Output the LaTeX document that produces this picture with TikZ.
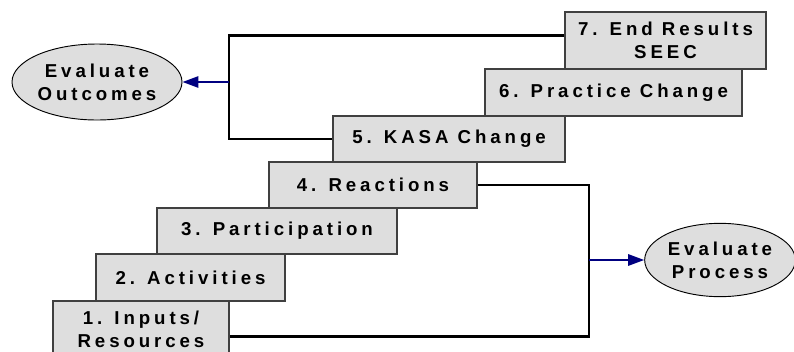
\documentclass[tikz,border=0pt]{standalone}
\usepackage{fontspec}
\setmainfont{Liberation Sans}
\newfontfamily\stairfont[LetterSpace=21]{Liberation Sans}
\usepackage{tikz}
\usetikzlibrary{positioning,arrows.meta,shapes.geometric}
\definecolor{cflow}{RGB}{0,0,128}
\colorlet{cfill}{black!13}
\tikzset{
  stepbox/.style={draw=black!75, fill=cfill, line width=1.2pt, inner sep=0pt, align=center,
                  font=\stairfont\bfseries\fontsize{14}{17}\selectfont},
  evalnode/.style={ellipse, draw=black, fill=cfill, line width=0.7pt, inner sep=0pt, align=center,
                   font=\stairfont\bfseries\fontsize{14}{17}\selectfont},
  link/.style={line width=2pt, black},
  evalflow/.style={-{Triangle[length=12pt,width=8.5pt]}, line width=1.4pt, cflow},
}
\begin{document}
\begin{tikzpicture}[x=0.75pt, y=-0.75pt]
\useasboundingbox (0,0) rectangle (794,351);

% staircase of the seven levels: centre x / centre y / width / height / text
\foreach \i/\cx/\cy/\w/\h/\t in {
    1/141/329.5/176/57/{1. Inputs/\\Resources},
    2/190.5/277.5/189/47/{2. Activities},
    3/277/231/240/46/{3. Participation},
    4/373/185/208/46/{4. Reactions},
    5/449/139/232/46/{5. KASA Change},
    6/613.5/92.5/257/47/{6. Practice Change},
    7/665.5/40.5/201/57/{7. End Results\\SEEC}} {
  \node[stepbox, minimum width=\w*0.75pt, minimum height=\h*0.75pt] (s\i) at (\cx,\cy) {\t};
}

% evaluation ellipses
\node[evalnode, minimum width=127.5pt, minimum height=57pt] (outc) at (97,82) {Evaluate\\Outcomes};
\node[evalnode, minimum width=113pt, minimum height=55pt] (proc) at (720,260) {Evaluate\\Process};

% brackets and arrows
\coordinate (jl) at (229,82);
\coordinate (jr) at (589,260);
\draw[link] ([yshift=4pt]s7.west) -| (jl) |- (s5.west);
\draw[link] (s4.east) -| (jr) |- ([yshift=-5pt]s1.east);
\draw[evalflow] (jl) -- (outc.east);
\draw[evalflow] (jr) -- (proc.west);
\end{tikzpicture}
\end{document}
